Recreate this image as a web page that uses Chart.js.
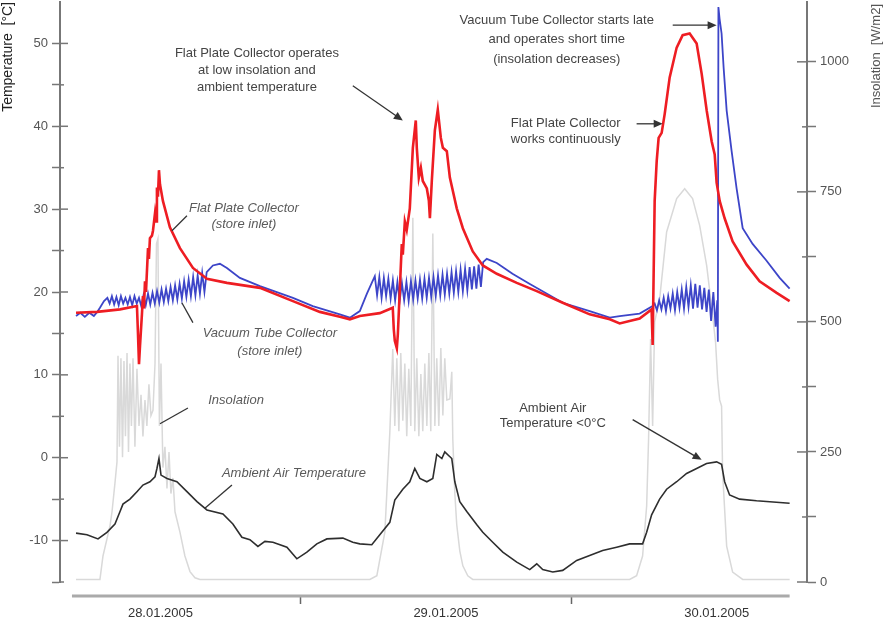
<!DOCTYPE html>
<html lang="en">
<head>
    <meta charset="UTF-8">
    <title>Store inlet temperatures 28.-30.01.2005</title>
    <script src="https://cdn.jsdelivr.net/npm/chart.js"></script>
    <style>
        body {
            margin: 0;
            padding: 0;
            background-color: #fff;
        }
        .chart-box {
            width: 886px;
            height: 621px;
        }
    </style>
</head>
<body>
    <div class="chart-box">
        <canvas id="storeChart" width="886" height="621"></canvas>
    </div>

    <script>
        // Time is given in hours from 28.01.2005 00:00
        const dayLabels = ['28.01.2005', '29.01.2005', '30.01.2005'];
        const dayLabelHours = [11.6, 36.9, 60.9];
        const midnightHours = [24, 48];
        const timeAxisRange = [3.76, 67.36];
        const tempTicks = [-15, -10, -5, 0, 5, 10, 15, 20, 25, 30, 35, 40, 45, 50];
        const solTicks = [0, 125, 250, 375, 500, 625, 750, 875, 1000];

        // Flat plate collector, store inlet [°C]
        const flatHours = [4.12, 5.98, 8.02, 9.52, 9.61, 9.70, 9.79, 9.96, 10.05, 10.14, 10.23, 10.32, 10.50, 10.58, 10.67, 10.85, 10.94, 11.12, 11.21, 11.29, 11.38, 11.47, 11.56, 11.82, 12.44, 13.33, 14.48, 15.72, 17.49, 20.42, 23.34, 25.73, 27.50, 28.39, 29.27, 31.04, 32.19, 32.28, 32.37, 32.55, 32.64, 32.82, 32.99, 33.08, 33.26, 33.43, 33.70, 33.97, 34.23, 34.32, 34.50, 34.68, 34.85, 35.21, 35.39, 35.48, 35.65, 35.92, 36.18, 36.45, 36.63, 36.98, 37.25, 37.86, 38.40, 39.28, 40.17, 41.41, 43.18, 44.95, 47.25, 49.64, 51.42, 52.30, 54.07, 55.13, 55.22, 55.40, 55.58, 55.75, 56.02, 56.29, 56.73, 57.35, 57.88, 58.50, 59.12, 59.57, 60.01, 60.45, 60.72, 60.89, 61.16, 61.60, 62.31, 63.55, 64.70, 66.21, 67.36];
        const flatTemp = [17.5, 17.6, 17.9, 18.3, 15.0, 11.3, 13.5, 17.3, 19.5, 18.0, 21.3, 20.0, 25.3, 24.0, 26.5, 26.8, 27.4, 29.5, 28.5, 32.6, 31.5, 34.7, 33.0, 31.0, 27.8, 25.3, 22.9, 21.6, 21.1, 20.5, 18.9, 17.6, 17.0, 16.7, 17.1, 17.45, 18.1, 15.5, 14.1, 13.2, 14.9, 20.5, 25.8, 24.5, 28.5, 27.5, 30.1, 37.4, 40.7, 37.4, 33.8, 35.0, 33.4, 32.5, 31.0, 28.9, 33.4, 39.5, 42.0, 38.6, 37.4, 37.0, 33.8, 30.1, 27.7, 24.9, 23.2, 22.2, 21.1, 20.1, 18.7, 17.3, 16.7, 16.2, 16.8, 17.9, 13.6, 31.0, 35.8, 38.6, 39.2, 41.5, 45.9, 49.5, 51.0, 51.2, 50.0, 46.3, 41.9, 38.2, 36.6, 33.2, 31.0, 28.9, 26.1, 23.3, 21.3, 19.9, 18.9];

        // Vacuum tube collector, store inlet [°C]
        const tubeHours = [4.12, 4.5, 4.9, 5.3, 5.7, 6.0, 6.24, 6.6,
            6.9, 7.1, 7.3, 7.5, 7.7, 7.9, 8.1, 8.3, 8.5, 8.7, 8.9, 9.1, 9.3, 9.5, 9.7, 9.9,
            10.1, 10.3, 10.5, 10.7, 10.9, 11.1, 11.3, 11.5, 11.7, 11.9, 12.1, 12.3, 12.5, 12.7, 12.9, 13.1, 13.3, 13.5, 13.7, 13.9, 14.1, 14.3, 14.5, 14.7, 14.9, 15.1, 15.3, 15.5,
            15.7, 16.25, 16.87, 17.49, 18.64, 20.42, 23.34, 25.1, 27.5, 28.39, 29.27, 29.9, 30.4,
            30.6, 30.8, 31.0, 31.2, 31.4, 31.6, 31.8, 32.0, 32.2, 32.4, 32.6, 32.8,
            33.0, 33.2, 33.4, 33.6, 33.8, 34.0, 34.2, 34.4, 34.6, 34.8, 35.0, 35.2, 35.4, 35.6, 35.8, 36.0, 36.2, 36.4, 36.6, 36.8, 37.0, 37.2, 37.4, 37.6, 37.8, 38.0, 38.2, 38.4, 38.6, 38.8, 39.0, 39.2, 39.4, 39.6, 39.8, 40.0,
            40.2, 40.52, 41.41, 42.8, 44.3, 47.25, 49.64, 51.42, 52.3, 54.07, 55.22,
            55.4, 55.6, 55.8, 56.0, 56.2, 56.4, 56.6, 56.8, 57.0, 57.2, 57.4, 57.6, 57.8, 58.0, 58.2, 58.4, 58.6, 58.8, 59.0, 59.2, 59.4, 59.6, 59.8, 60.0, 60.2, 60.4, 60.6, 60.8, 60.95, 61.0,
            61.05, 61.15, 61.33, 61.51, 61.78, 62.22, 62.66, 63.2, 64.08, 65.3, 66.48, 67.36];
        const tubeTemp = [17.1, 17.5, 17.0, 17.5, 17.1, 17.6, 18.1, 18.9,
            19.3, 18.6, 19.5, 18.5, 19.4, 18.4, 19.5, 18.6, 19.3, 18.5, 19.4, 18.4, 19.5, 18.6, 19.3, 18.3,
            19.6, 18.4, 19.8, 18.5, 19.9, 18.6, 20.1, 18.7, 20.3, 18.8, 20.4, 18.9, 20.6, 19.0, 20.8, 19.1, 21.0, 19.2, 21.3, 19.4, 21.5, 19.5, 21.8, 19.6, 22.0, 19.8, 22.3, 20.0,
            22.4, 23.2, 23.4, 22.9, 21.7, 20.7, 19.3, 18.3, 17.3, 16.9, 17.7, 19.8, 21.3,
            21.9, 19.6, 21.8, 19.3, 21.7, 19.5, 21.6, 19.2, 21.4, 19.0, 21.2, 18.9,
            21.1, 19.0, 21.2, 18.9, 21.3, 19.1, 21.4, 19.2, 21.5, 19.2, 21.6, 19.3, 21.7, 19.4, 21.8, 19.5, 22.0, 19.6, 22.1, 19.7, 22.2, 19.8, 22.4, 19.9, 22.5, 20.0, 22.7, 20.1, 22.8, 20.2, 23.0, 20.3, 23.1, 20.4, 23.3, 20.6,
            23.6, 24.0, 23.5, 22.2, 21.0, 18.7, 17.7, 16.9, 17.1, 17.4, 18.3,
            18.6, 17.8, 19.0, 17.9, 19.3, 17.7, 19.5, 18.0, 19.8, 17.8, 20.0, 18.1, 20.3, 18.0, 20.6, 18.2, 20.8, 18.0, 21.0, 18.1, 20.8, 17.9, 20.5, 17.6, 20.3, 16.5, 20.0, 15.8, 19.0, 14.0,
            54.4, 53.0, 51.2, 47.1, 41.9, 37.0, 32.5, 27.7, 25.8, 23.8, 21.7, 20.4];

        // Ambient air temperature [°C]
        const ambHours = [4.12, 5.09, 6.07, 6.86, 7.57, 8.02, 8.28, 8.90, 9.52, 10.05, 10.67, 11.12, 11.29, 11.47, 11.65, 12.18, 13.06, 13.95, 14.84, 15.72, 17.14, 18.02, 18.82, 19.53, 20.24, 20.86, 21.57, 22.81, 23.69, 24.58, 25.46, 26.35, 27.77, 28.65, 29.27, 30.33, 31.04, 31.93, 32.37, 33.08, 33.70, 34.14, 34.59, 35.21, 35.74, 36.09, 36.54, 36.80, 37.42, 37.69, 38.13, 38.75, 39.64, 40.17, 41.05, 41.94, 43.18, 44.33, 44.95, 45.48, 46.37, 47.25, 48.49, 49.64, 50.79, 52.03, 53.18, 54.33, 54.69, 55.13, 55.84, 56.46, 57.35, 58.23, 59.12, 60.00, 60.89, 61.33, 61.60, 62.04, 62.93, 64.43, 67.36];
        const ambTemp = [-9.1, -9.3, -9.8, -9.0, -8.0, -6.5, -5.6, -5.0, -4.1, -3.3, -2.9, -2.3, -1.3, -0.1, -2.1, -2.5, -2.9, -4.1, -5.3, -6.3, -6.8, -8.0, -9.6, -9.9, -10.7, -10.1, -10.2, -10.8, -12.2, -11.4, -10.4, -9.8, -9.7, -10.2, -10.4, -10.5, -9.3, -7.8, -5.1, -3.8, -2.9, -1.3, -2.5, -2.9, -2.5, 0.4, -0.1, 0.7, -0.1, -2.9, -5.3, -6.5, -8.1, -9.0, -10.2, -11.4, -12.6, -13.5, -12.8, -13.5, -13.8, -13.6, -12.4, -11.8, -11.2, -10.8, -10.4, -10.4, -9.0, -6.9, -5.0, -3.8, -2.9, -1.9, -1.3, -0.7, -0.5, -0.8, -2.9, -4.5, -5.0, -5.2, -5.5];

        // Insolation [W/m2]
        const solHours = [4.12, 6.24, 6.51, 7.13, 7.31, 7.57, 7.75, 7.84, 7.97, 8.10, 8.24, 8.37, 8.50, 8.64, 8.77, 8.90, 9.03, 9.17, 9.34, 9.52, 9.70, 9.88, 10.05, 10.23, 10.40, 10.58, 10.76, 10.94, 11.12, 11.25, 11.38, 11.51, 11.65, 11.82, 12.0, 12.18, 12.36, 12.53, 12.71, 12.89, 13.33, 13.77, 14.22, 14.66, 15.10,
            30.16, 30.78, 31.49, 31.93, 32.19, 32.37, 32.55, 32.73, 32.90, 33.08, 33.26, 33.43, 33.61, 33.79, 33.97, 34.14, 34.32, 34.50, 34.68, 34.85, 35.03, 35.21, 35.39, 35.56, 35.74, 35.92, 36.09, 36.27, 36.45, 36.63, 36.80, 36.98, 37.25, 37.42, 37.51, 37.69, 37.86, 38.13, 38.40, 38.84, 39.28,
            53.18, 53.80, 54.33, 54.69, 54.86, 55.04, 55.22, 55.40, 55.84, 56.46, 57.35, 58.06, 58.76, 59.39, 60.01, 60.54, 60.80, 60.98, 61.16, 61.33, 61.42, 61.78, 62.31, 63.20, 67.36];
        const solValue = [5, 5, 50, 108, 135, 190, 231, 435, 260, 430, 240, 425, 280, 440, 250, 420, 300, 430, 260, 410, 300, 360, 280, 350, 300, 380, 320, 330, 420, 650, 660, 300, 420, 220, 260, 180, 250, 170, 200, 135, 96, 50, 20, 8, 5,
            5, 12, 96, 288, 448, 300, 430, 290, 440, 310, 420, 280, 410, 300, 700, 290, 430, 280, 400, 290, 420, 300, 440, 290, 670, 300, 430, 300, 450, 320, 430, 350, 352, 404, 275, 170, 110, 60, 31, 12, 5,
            5, 12, 50, 146, 275, 467, 300, 500, 544, 673, 737, 756, 737, 685, 608, 512, 460, 390, 350, 338, 211, 69, 19, 5, 5];

        const toPoints = (hours, values) => hours.map((h, i) => ({ x: h, y: values[i] }));

        Chart.defaults.font.family = "'Liberation Sans', Arial, sans-serif";
        Chart.defaults.color = '#555';

        // Texts and pointers, placed in hours / °C
        const notes = [
            { lines: ['Flat Plate Collector operates', 'at low insolation and', 'ambient temperature'], h: 20.15, t: 48.8, gap: 17 },
            { lines: ['Vacuum Tube Collector starts late', 'and operates short time', '(insolation decreases)'], h: 46.72, t: 52.8, gap: 19.5 },
            { lines: ['Flat Plate Collector', 'works continuously'], h: 47.52, t: 40.3, gap: 16 },
            { lines: ['Flat Plate Collector', '(store inlet)'], h: 19.0, t: 30.1, gap: 16, italic: true },
            { lines: ['Vacuum Tube Collector', '(store inlet)'], h: 21.3, t: 15.0, gap: 18, italic: true },
            { lines: ['Insolation'], h: 18.3, t: 6.9, gap: 0, italic: true },
            { lines: ['Ambient Air Temperature'], h: 23.43, t: -1.95, gap: 0, italic: true },
            { lines: ['Ambient Air', 'Temperature <0°C'], h: 46.37, t: 5.9, gap: 15 }
        ];
        const pointers = [
            [28.65, 44.9, 33.08, 40.7, true],
            [57.0, 52.2, 60.89, 52.2, true],
            [53.8, 40.3, 56.11, 40.3, true],
            [13.95, 29.2, 12.62, 27.4, false],
            [14.48, 16.3, 13.5, 18.7, false],
            [14.04, 6.0, 11.56, 4.1, false],
            [17.94, -3.3, 15.54, -6.1, false],
            [53.45, 4.6, 59.56, -0.26, true]
        ];

        const annotationPlugin = {
            id: 'annotations',
            afterDraw(chart) {
                const { ctx, chartArea } = chart;
                const xs = chart.scales.x, xd = chart.scales.xd, yT = chart.scales.yT, yI = chart.scales.yI;

                ctx.save();
                // time axis line, only as long as the record
                ctx.strokeStyle = '#aaa';
                ctx.lineWidth = 3;
                ctx.beginPath();
                ctx.moveTo(xs.getPixelForValue(timeAxisRange[0]), xd.top);
                ctx.lineTo(xs.getPixelForValue(timeAxisRange[1]), xd.top);
                ctx.stroke();

                // inner half of the crossing tick marks
                ctx.strokeStyle = '#777';
                ctx.lineWidth = 1.5;
                yT.ticks.forEach(t => {
                    const y = yT.getPixelForValue(t.value);
                    const len = t.value % 10 === 0 ? 8 : 4;
                    ctx.beginPath();
                    ctx.moveTo(chartArea.left, y);
                    ctx.lineTo(chartArea.left + len, y);
                    ctx.stroke();
                });
                yI.ticks.forEach(t => {
                    const y = yI.getPixelForValue(t.value);
                    const len = t.value % 250 === 0 ? 10 : 5;
                    ctx.beginPath();
                    ctx.moveTo(chartArea.right - len, y);
                    ctx.lineTo(chartArea.right, y);
                    ctx.stroke();
                });

                // right axis title, reads bottom to top like the left one
                ctx.save();
                ctx.translate(876, 4);
                ctx.rotate(-Math.PI / 2);
                ctx.font = "13px 'Liberation Sans', Arial, sans-serif";
                ctx.fillStyle = '#555';
                ctx.textAlign = 'right';
                ctx.textBaseline = 'middle';
                ctx.fillText('Insolation  [W/m2]', 0, 0);
                ctx.restore();

                // notes
                ctx.textAlign = 'center';
                ctx.textBaseline = 'middle';
                notes.forEach(n => {
                    ctx.font = (n.italic ? 'italic ' : '') + "13px 'Liberation Sans', Arial, sans-serif";
                    ctx.fillStyle = n.italic ? '#5a5a5a' : '#444';
                    const x = xs.getPixelForValue(n.h);
                    const y = yT.getPixelForValue(n.t);
                    n.lines.forEach((line, i) => ctx.fillText(line, x, y + i * n.gap));
                });

                // pointer lines and arrows
                ctx.strokeStyle = '#333';
                ctx.fillStyle = '#333';
                ctx.lineWidth = 1.3;
                pointers.forEach(([h1, t1, h2, t2, arrow]) => {
                    const x1 = xs.getPixelForValue(h1), y1 = yT.getPixelForValue(t1);
                    const x2 = xs.getPixelForValue(h2), y2 = yT.getPixelForValue(t2);
                    const a = Math.atan2(y2 - y1, x2 - x1);
                    const back = arrow ? 7 : 0;
                    ctx.beginPath();
                    ctx.moveTo(x1, y1);
                    ctx.lineTo(x2 - back * Math.cos(a), y2 - back * Math.sin(a));
                    ctx.stroke();
                    if (arrow) {
                        ctx.beginPath();
                        ctx.moveTo(x2, y2);
                        ctx.lineTo(x2 - 9 * Math.cos(a) + 4 * Math.sin(a), y2 - 9 * Math.sin(a) - 4 * Math.cos(a));
                        ctx.lineTo(x2 - 9 * Math.cos(a) - 4 * Math.sin(a), y2 - 9 * Math.sin(a) + 4 * Math.cos(a));
                        ctx.closePath();
                        ctx.fill();
                    }
                });
                ctx.restore();
            }
        };

        // the y axes keep no extra room for their end labels
        const noEndPadding = scale => {
            scale.paddingTop = 0;
            scale.paddingBottom = 0;
        };

        const ctxStore = document.getElementById('storeChart').getContext('2d');
        const storeChart = new Chart(ctxStore, {
            type: 'line',
            data: {
                datasets: [
                    {
                        label: 'Flat Plate Collector (store inlet)',
                        data: toPoints(flatHours, flatTemp),
                        yAxisID: 'yT',
                        borderColor: '#ee1d23',
                        borderWidth: 2.6
                    },
                    {
                        label: 'Vacuum Tube Collector (store inlet)',
                        data: toPoints(tubeHours, tubeTemp),
                        yAxisID: 'yT',
                        borderColor: '#3d45c8',
                        borderWidth: 1.8
                    },
                    {
                        label: 'Ambient Air Temperature',
                        data: toPoints(ambHours, ambTemp),
                        yAxisID: 'yT',
                        borderColor: '#2e2e2e',
                        borderWidth: 1.6
                    },
                    {
                        label: 'Insolation',
                        data: toPoints(solHours, solValue),
                        yAxisID: 'yI',
                        borderColor: '#d9d9d9',
                        borderWidth: 1.5
                    }
                ]
            },
            options: {
                responsive: false,
                animation: false,
                events: [],
                layout: { padding: { top: 2 } },
                elements: {
                    point: { radius: 0 },
                    line: { tension: 0, fill: false }
                },
                plugins: {
                    legend: { display: false },
                    tooltip: { enabled: false }
                },
                scales: {
                    x: {
                        type: 'linear',
                        position: 'bottom',
                        weight: 0,
                        min: 2.7,
                        max: 68.9,
                        ticks: { display: false },
                        grid: { display: false },
                        border: { display: false },
                        afterFit: scale => { scale.height = 14; }
                    },
                    xd: {
                        type: 'linear',
                        position: 'bottom',
                        weight: 1,
                        min: 2.7,
                        max: 68.9,
                        afterBuildTicks: scale => {
                            scale.ticks = [...midnightHours, ...dayLabelHours]
                                .sort((a, b) => a - b)
                                .map(v => ({ value: v }));
                        },
                        ticks: {
                            autoSkip: false,
                            maxRotation: 0,
                            padding: 2,
                            color: '#333',
                            font: { size: 13 },
                            callback: value => {
                                const i = dayLabelHours.indexOf(value);
                                return i >= 0 ? dayLabels[i] : '';
                            }
                        },
                        grid: {
                            drawOnChartArea: false,
                            tickLength: 8,
                            tickWidth: 1.5,
                            tickColor: c => midnightHours.includes(c.tick.value) ? '#666' : 'rgba(0,0,0,0)'
                        },
                        border: { display: false },
                        afterFit: scale => { scale.height = 25; }
                    },
                    yT: {
                        type: 'linear',
                        position: 'left',
                        min: -15,
                        max: 55,
                        afterBuildTicks: scale => {
                            scale.ticks = tempTicks.map(v => ({ value: v }));
                        },
                        ticks: {
                            padding: 4,
                            font: { size: 13 },
                            callback: value => value % 10 === 0 ? value : ''
                        },
                        grid: {
                            drawOnChartArea: false,
                            tickLength: 8,
                            tickWidth: 1.5,
                            tickColor: '#777'
                        },
                        border: { color: '#777', width: 2 },
                        title: {
                            display: true,
                            text: 'Temperature  [°C]',
                            align: 'end',
                            color: '#222',
                            font: { size: 14 },
                            padding: { top: 0, bottom: 0 }
                        },
                        afterFit: scale => {
                            scale.width = 60;
                            noEndPadding(scale);
                        }
                    },
                    yI: {
                        type: 'linear',
                        position: 'right',
                        min: 0,
                        max: 1115,
                        afterBuildTicks: scale => {
                            scale.ticks = solTicks.map(v => ({ value: v }));
                        },
                        ticks: {
                            padding: 4,
                            font: { size: 13 },
                            callback: value => value % 250 === 0 ? value : ''
                        },
                        grid: {
                            drawOnChartArea: false,
                            tickLength: 9,
                            tickWidth: 1.5,
                            tickColor: '#777'
                        },
                        border: { color: '#777', width: 2 },
                        afterFit: scale => {
                            scale.width = 79;
                            noEndPadding(scale);
                        }
                    }
                }
            },
            plugins: [annotationPlugin]
        });
    </script>
</body>
</html>
